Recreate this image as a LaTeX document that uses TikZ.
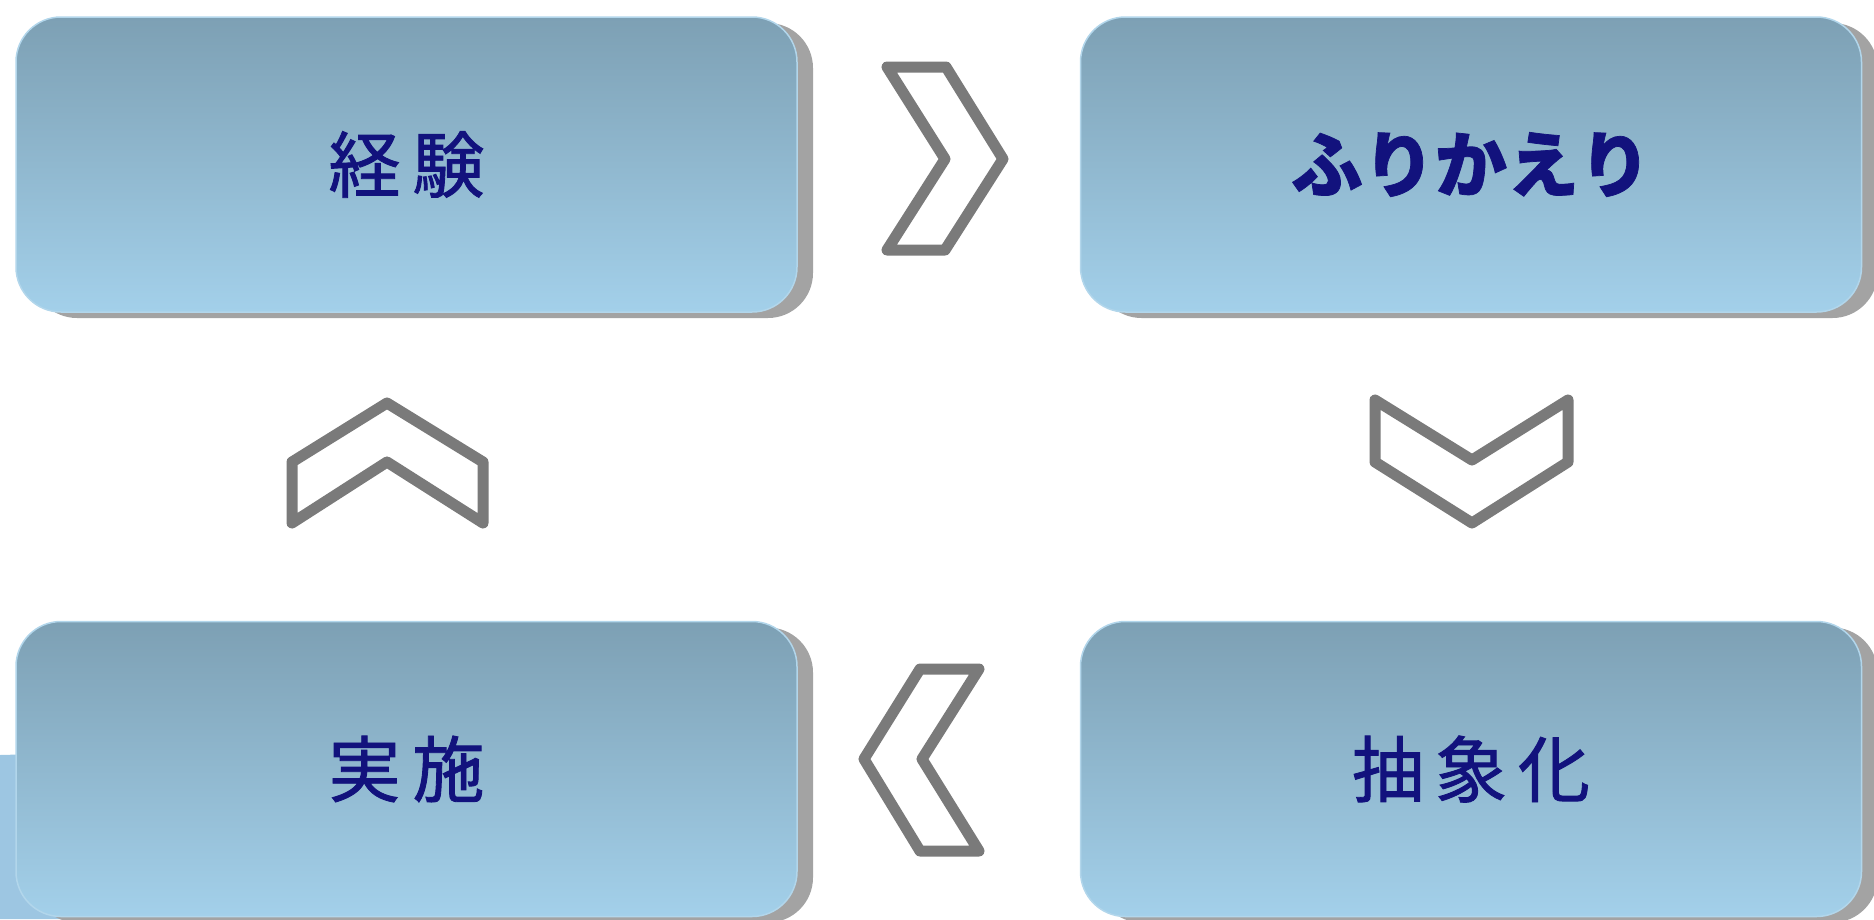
\documentclass[tikz,border=0pt]{standalone}
\usepackage{fontspec}
\newfontfamily\jp{Noto Sans CJK JP}[FakeBold=1.2]
\newfontfamily\jpb{Noto Sans CJK JP}[FakeBold=1]
\usetikzlibrary{shadows}
\definecolor{boxtop}{RGB}{125,160,180}
\definecolor{boxbot}{RGB}{163,208,234}
\definecolor{boxrim}{RGB}{178,214,235}
\definecolor{shadowgray}{RGB}{163,163,163}
\definecolor{navy}{RGB}{18,18,125}
\definecolor{chevgray}{RGB}{122,122,122}
\definecolor{bgblue}{RGB}{157,198,226}
\begin{document}
\begin{tikzpicture}[x=1pt,y=-1pt,
  box/.style={rounded corners=45pt, minimum width=781pt, minimum height=295pt,
    top color=boxtop, bottom color=boxbot, draw=boxrim, line width=1.5pt,
    drop shadow={shadow xshift=16pt, shadow yshift=-6pt, fill=shadowgray, opacity=1},
    text=navy, font=\jp\fontsize{72pt}{80pt}\selectfont, inner sep=0pt},
  chev/.style={draw=chevgray, fill=white, line width=11pt, line join=round}]
\useasboundingbox (0,0) rectangle (1874,919);
\fill[bgblue] (0,755) -- (120,752) -- (120,919) -- (0,919) -- cycle;
\node[box] (exp) at (406.5,164.5) {経\hspace{12pt}験};
\node[box] (ref) at (1471,164.5) {\jpb\bfseries ふりかえり};
\node[box] (imp) at (406.5,769) {実\hspace{12pt}施};
\node[box] (abs) at (1471,769) {抽\hspace{11pt}象\hspace{11pt}化};
\draw[chev] (887,67) -- (946,67) -- (1003,159) -- (945,250) -- (887,250) -- (945,159) -- cycle;
\draw[chev] (1375,400) -- (1472,460) -- (1568,400) -- (1568,462) -- (1472,523) -- (1375,462) -- cycle;
\draw[chev] (979,669) -- (920,669) -- (864,759) -- (920,851) -- (979,851) -- (922,759) -- cycle;
\draw[chev] (292,523) -- (292,462) -- (387,403) -- (483,462) -- (483,523) -- (387,462) -- cycle;
\end{tikzpicture}
\end{document}
